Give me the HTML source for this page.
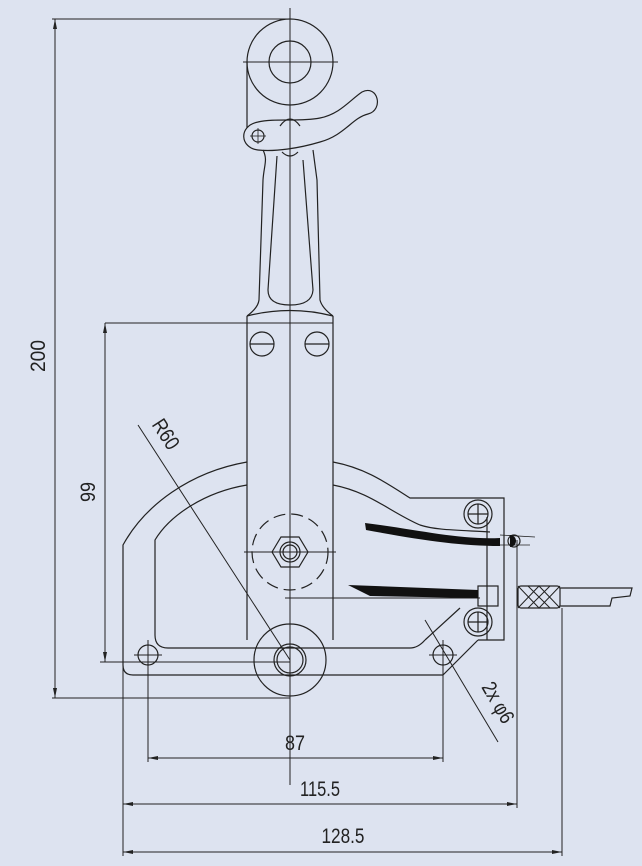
<!DOCTYPE html>
<html><head><meta charset="utf-8"><style>
html,body{margin:0;padding:0;background:#dde3f0;}
svg{display:block}
text{font-family:"Liberation Sans",sans-serif;fill:#222;}
</style></head><body>
<svg width="642" height="866" viewBox="0 0 642 866" xmlns="http://www.w3.org/2000/svg">
<rect width="642" height="866" fill="#dde3f0"/>
<defs>
<marker id="a" viewBox="0 0 10 4" refX="10" refY="2" markerWidth="10" markerHeight="4" orient="auto-start-reverse" markerUnits="userSpaceOnUse"><path d="M0,0 L10,2 L0,4 z" fill="#222"/></marker>
</defs>
<g fill="none" stroke="#222" stroke-width="1.2">
<line x1="290" y1="8" x2="290" y2="785" stroke-width="1"/>
<line x1="243" y1="62" x2="338" y2="62" stroke-width="1"/>
<line x1="52" y1="19" x2="290" y2="19" stroke-width="1"/>
<line x1="52" y1="698" x2="290" y2="698" stroke-width="1"/>
<line x1="55" y1="19" x2="55" y2="698" stroke-width="1" marker-start="url(#a)" marker-end="url(#a)"/>
<circle cx="290" cy="62" r="43"/>
<circle cx="290" cy="62" r="21"/>
<line x1="247" y1="62" x2="247" y2="128"/>
<path d="M258,122 C275,118 300,122 320,118 C340,114 350,100 362,92 C378,84 384,110 368,114 C352,118 345,135 320,142 C300,148 275,152 258,150 C240,148 238,126 258,122 Z"/>
<circle cx="258" cy="136" r="6"/>
<line x1="250" y1="136" x2="266" y2="136" stroke-width="0.8"/>
<line x1="258" y1="128" x2="258" y2="144" stroke-width="0.8"/>
<path d="M280,126 Q290,112 300,126"/>
<path d="M282,152 Q290,160 298,152"/>
<path d="M263,150 C268,160 264,165 263,180 L259,300 Q258,308 247,316"/>
<path d="M313,150 L317,180 L320,300 Q322,308 333,316"/>
<path d="M277,156 L268,290 Q268,305 290,305 Q312,305 313,290 L303,160"/>
<path d="M247,316 Q290,305 333,316"/>
<line x1="247" y1="316" x2="247" y2="640"/>
<line x1="333" y1="316" x2="333" y2="640"/>
<line x1="105" y1="323" x2="333" y2="323" stroke-width="1"/>
<circle cx="262" cy="344" r="12"/><line x1="250" y1="344" x2="274" y2="344"/>
<circle cx="317" cy="344" r="12"/><line x1="305" y1="344" x2="329" y2="344"/>
<line x1="105" y1="323" x2="105" y2="662" stroke-width="1" marker-start="url(#a)" marker-end="url(#a)"/>
<line x1="100" y1="662" x2="290" y2="662" stroke-width="1"/>
<path d="M247,462 C190,472 145,505 123,545 L123,665 Q123,675 133,675 L443,675"/>
<path d="M333,462 C365,468 385,482 410,498 L504,498 L504,640 L478,640"/>
<path d="M247,485 C205,492 170,515 155,540 L155,635 Q155,648 168,648 L410,648 Q418,648 425,640"/>
<path d="M333,485 C370,492 390,512 420,525 C435,530 455,530 490,532"/>
<line x1="425" y1="640" x2="460" y2="608"/>
<line x1="478" y1="640" x2="443" y2="675"/>
<line x1="487" y1="517" x2="487" y2="640"/>
<circle cx="478" cy="514" r="14"/><circle cx="478" cy="514" r="10"/>
<line x1="468" y1="514" x2="488" y2="514"/><line x1="478" y1="504" x2="478" y2="524"/>
<circle cx="478" cy="622" r="14"/><circle cx="478" cy="622" r="10"/>
<line x1="468" y1="622" x2="488" y2="622"/><line x1="478" y1="612" x2="478" y2="632"/>
<circle cx="290" cy="552" r="38" stroke-dasharray="12,6"/>
<polygon points="272,552 281,537 299,537 308,552 299,567 281,567"/>
<circle cx="290" cy="552" r="10"/><circle cx="290" cy="552" r="7"/>
<line x1="244" y1="552" x2="336" y2="552" stroke-width="1"/>
<line x1="285" y1="598" x2="480" y2="598" stroke-width="1"/>
<circle cx="290" cy="660" r="36"/>
<circle cx="290" cy="660" r="16"/><circle cx="290" cy="660" r="13"/>
<circle cx="148" cy="655" r="10"/>
<line x1="134" y1="655" x2="162" y2="655" stroke-width="1"/>
<circle cx="443" cy="655" r="10"/>
<line x1="429" y1="655" x2="457" y2="655" stroke-width="1"/>
<circle cx="514" cy="541" r="6"/>
<line x1="500" y1="535" x2="535" y2="537" stroke-width="0.8"/>
<line x1="500" y1="545" x2="530" y2="545" stroke-width="0.8"/>
<rect x="478" y="586" width="20" height="20"/>
<rect x="518" y="586" width="42" height="22" rx="3"/>
<path d="M518,586 L539,608 L560,586 M518,608 L539,586 L560,608 M528,586 L550,608 M528,608 L550,586" stroke-width="1"/>
<path d="M560,588 L632,588 L630,596 L612,598 L610,606 L560,606"/>
<line x1="517" y1="540" x2="517" y2="808" stroke-width="1"/>
<line x1="562" y1="608" x2="562" y2="856" stroke-width="1"/>
<line x1="123" y1="665" x2="123" y2="856" stroke-width="1"/>
<line x1="148" y1="640" x2="148" y2="762" stroke-width="1"/>
<line x1="443" y1="640" x2="443" y2="762" stroke-width="1"/>
<line x1="148" y1="758" x2="443" y2="758" stroke-width="1" marker-start="url(#a)" marker-end="url(#a)"/>
<line x1="123" y1="804" x2="517" y2="804" stroke-width="1" marker-start="url(#a)" marker-end="url(#a)"/>
<line x1="123" y1="852" x2="562" y2="852" stroke-width="1" marker-start="url(#a)" marker-end="url(#a)"/>
<line x1="138" y1="425" x2="290" y2="660" stroke-width="1"/>
<line x1="425" y1="620" x2="498" y2="742" stroke-width="1"/>
</g>
<path d="M365,523 C420,530 460,540 500,538 L500,546 C460,546 420,540 366,530 Z" fill="#111"/>
<path d="M348,585 L478,590 L478,598 L370,596 Z" fill="#111"/>
<path d="M510,535 A6,6 0 0 1 510,547 Z" fill="#111"/>
<g font-size="21">
<text x="45" y="356" transform="rotate(-90 45 356)" text-anchor="middle" textLength="32" lengthAdjust="spacingAndGlyphs">200</text>
<text x="95" y="492" transform="rotate(-90 95 492)" text-anchor="middle" textLength="20" lengthAdjust="spacingAndGlyphs">99</text>
<text x="295" y="750" text-anchor="middle" textLength="20" lengthAdjust="spacingAndGlyphs">87</text>
<text x="320" y="796" text-anchor="middle" textLength="40" lengthAdjust="spacingAndGlyphs">115.5</text>
<text x="343" y="843" text-anchor="middle" textLength="43" lengthAdjust="spacingAndGlyphs">128.5</text>
<text x="160" y="438" transform="rotate(57 160 438)" text-anchor="middle" textLength="32" lengthAdjust="spacingAndGlyphs">R60</text>
<text x="492" y="706" transform="rotate(60 492 706)" text-anchor="middle" textLength="44" lengthAdjust="spacingAndGlyphs">2x φ6</text>
</g>
</svg>
</body></html>
